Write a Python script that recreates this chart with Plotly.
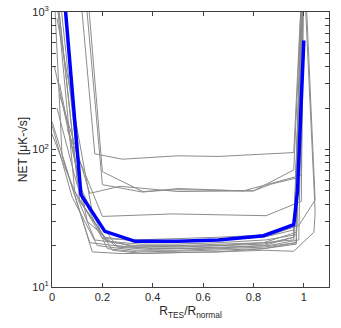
import plotly.graph_objects as go

# mean curve (blue)
mean_x = [0.02, 0.115, 0.21, 0.33, 0.50, 0.66, 0.84, 0.96, 0.975, 1.00]
mean_y = [5500, 47, 25.4, 21.5, 21.5, 22, 23.6, 28.4, 50, 620]

# individual detector curves (gray)
gray_x = [
    [0.10, 0.17, 0.28, 0.50, 0.66, 0.96, 1.00],
    [0.13, 0.20, 0.36, 0.50, 0.80, 0.96, 1.00],
    [0.12, 0.20, 0.36, 0.50, 0.76, 0.99, 1.00],
    [0.03, 0.15, 0.27, 0.50, 0.80, 0.87, 0.97, 1.00],
    [0.06, 0.20, 0.48, 0.85, 0.99, 1.00],
    [0.00, 0.10, 0.21, 0.33, 0.50, 0.66, 0.84, 0.96, 1.00],
    [0.00, 0.08, 0.18, 0.33, 0.50, 0.66, 0.84, 0.97, 1.00],
    [0.01, 0.12, 0.22, 0.35, 0.50, 0.66, 0.85, 0.97, 1.00],
    [0.00, 0.05, 0.17, 0.33, 0.50, 0.66, 0.84, 0.96, 1.00],
    [0.02, 0.10, 0.22, 0.34, 0.50, 0.66, 0.84, 0.97, 1.00],
    [0.00, 0.06, 0.16, 0.28, 0.50, 0.66, 0.84, 0.96, 1.04, 1.045, 1.00],
    [0.00, 0.09, 0.20, 0.33, 0.50, 0.66, 0.87, 0.98, 1.045, 1.00],
    [0.01, 0.13, 0.24, 0.36, 0.50, 0.66, 0.84, 0.97, 1.00],
    [0.00, 0.11, 0.21, 0.33, 0.50, 0.66, 0.84, 0.96, 1.00],
    [0.03, 0.14, 0.25, 0.40, 0.55, 0.70, 0.86, 0.98, 1.00],
    [0.00, 0.04, 0.15, 0.30, 0.50, 0.66, 0.84, 0.97, 1.00],
    [0.02, 0.16, 0.26, 0.38, 0.50, 0.66, 0.84, 0.96, 1.00],
]
gray_y = [
    [2500, 93, 85, 90, 89, 95, 3000],
    [2500, 69, 49.5, 51, 50, 71, 3000],
    [2500, 55.5, 49, 52, 50, 65, 3000],
    [250, 48, 54, 49.5, 50, 56, 62, 3000],
    [140, 32.6, 34, 33, 42, 3000],
    [3000, 60, 22, 19.5, 19.5, 20, 20.5, 23, 3000],
    [150, 45, 20, 18.5, 18.5, 19, 19.5, 21, 3000],
    [3000, 40, 21.5, 20.5, 20.5, 21, 22, 24, 3000],
    [130, 75, 22, 20, 20, 20.5, 21, 22, 3000],
    [200, 55, 19, 18, 18.2, 18.5, 19, 20.5, 3000],
    [160, 70, 18, 17.5, 17.8, 18, 18.5, 18.2, 25, 35, 2000],
    [3000, 50, 22.5, 22, 22.5, 23, 24, 28, 43, 3000],
    [400, 38, 18.5, 17.5, 17.8, 18, 19, 21, 3000],
    [3000, 42, 23, 21.5, 21.5, 22, 23, 26, 3000],
    [300, 30, 20, 19, 19.2, 19.5, 20, 22, 3000],
    [3000, 90, 21, 19.5, 19.8, 20, 21, 25, 3000],
    [900, 35, 19.5, 18.8, 19, 19.2, 20, 23, 3000],
]

# log ticks: labelled decades plus unlabelled 2..9 marks
y_ticks = [10, 20, 30, 40, 50, 60, 70, 80, 90,
           100, 200, 300, 400, 500, 600, 700, 800, 900, 1000]
y_labels = {10: "10<sup>1</sup>", 100: "10<sup>2</sup>", 1000: "10<sup>3</sup>"}

fig = go.Figure()
for gx, gy in zip(gray_x, gray_y):
    fig.add_trace(go.Scatter(x=gx, y=gy, mode="lines",
                             line=dict(color="#8c8c8c", width=1), showlegend=False))
fig.add_trace(go.Scatter(x=mean_x, y=mean_y, mode="lines",
                         line=dict(color="#0000ff", width=3.5), showlegend=False))

axis_common = dict(
    showline=True, linecolor="#404040", linewidth=1, mirror="allticks",
    ticks="inside", tickcolor="#404040", ticklen=4, showgrid=False, zeroline=False,
    tickfont=dict(size=11, color="#262626"), automargin=False,
)
fig.update_xaxes(
    range=[0, 1.1], tickvals=[0, 0.2, 0.4, 0.6, 0.8, 1],
    ticktext=["0", "0.2", "0.4", "0.6", "0.8", "1"],
    title=dict(text="R<sub>TES</sub>/R<sub>normal</sub>", font=dict(size=12, color="#262626"), standoff=4),
    **axis_common,
)
fig.update_yaxes(
    type="log", range=[1, 3], tickvals=y_ticks,
    ticktext=[y_labels.get(v, "") for v in y_ticks],
    title=dict(text="NET [μK-√s]", font=dict(size=12, color="#262626"), standoff=2),
    **axis_common,
)
fig.update_layout(
    width=341, height=328,
    margin=dict(l=52, r=12, t=12, b=41),
    paper_bgcolor="white", plot_bgcolor="white",
    font=dict(family="Liberation Sans, Arial, sans-serif", color="#262626"),
)
# drop the default page margin so the figure sits at the window's top-left
fig.write_html("out.html", config={"displayModeBar": False},
               post_script="document.body.style.margin='0';")
